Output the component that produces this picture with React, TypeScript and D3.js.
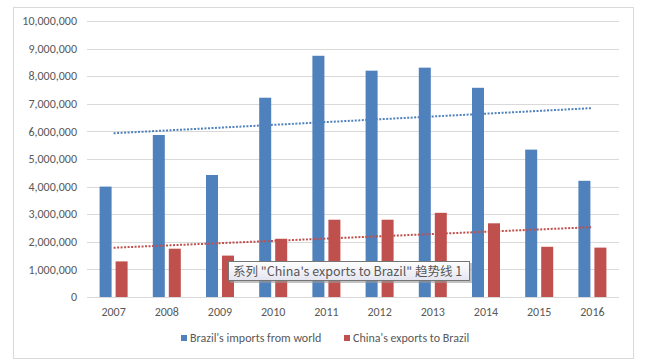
import React, { useEffect, useRef } from 'react';
import * as d3 from 'd3';

const years = ['2007', '2008', '2009', '2010', '2011', '2012', '2013', '2014', '2015', '2016'];
const brazilImports = [4000000, 5870000, 4420000, 7220000, 8740000, 8200000, 8310000, 7580000, 5340000, 4210000];
const chinaExports = [1290000, 1750000, 1500000, 2110000, 2800000, 2800000, 3050000, 2670000, 1820000, 1790000];
const yTicks = [0, 1000000, 2000000, 3000000, 4000000, 5000000, 6000000, 7000000, 8000000, 9000000, 10000000];
const seriesNames = ["Brazil's imports from world", "China's exports to Brazil"];
const tooltipText = '系列 "China\'s exports to Brazil" 趋势线 1';

// linear trendline, like Excel
function trend(values: number[]) {
  const xs = values.map((_, i) => i + 1);
  const mx = d3.mean(xs)!;
  const my = d3.mean(values)!;
  const sxy = d3.sum(xs, (x, i) => (x - mx) * (values[i] - my));
  const sxx = d3.sum(xs, (x) => (x - mx) ** 2);
  const b = sxy / sxx;
  const a = my - b * mx;
  return xs.map((x) => a + b * x);
}

export default function App() {
  const ref = useRef<SVGSVGElement>(null);

  useEffect(() => {
    const svg = d3.select(ref.current);
    svg.selectAll('*').remove();
    const W = 648;
    const H = 363;
    const left = 87;
    const right = 619;
    const top = 21;
    const bottom = 297;
    const font = 'Calibri, Carlito, "Liberation Sans", Arial, sans-serif';

    svg.append('rect').attr('width', W).attr('height', H).attr('fill', '#fff');
    svg
      .append('rect')
      .attr('x', 13.5)
      .attr('y', 7.5)
      .attr('width', 620)
      .attr('height', 351)
      .attr('fill', 'none')
      .attr('stroke', '#d9d9d9');

    const x = d3.scaleBand().domain(years).range([left, right]);
    const y = d3.scaleLinear().domain([0, 10000000]).range([bottom, top]);

    // grid
    svg
      .append('g')
      .selectAll('line')
      .data(yTicks)
      .join('line')
      .attr('x1', left)
      .attr('x2', right)
      .attr('y1', (d) => Math.round(y(d)) + 0.5)
      .attr('y2', (d) => Math.round(y(d)) + 0.5)
      .attr('stroke', '#d9d9d9');

    svg
      .append('g')
      .selectAll('text')
      .data(yTicks)
      .join('text')
      .attr('x', 77)
      .attr('y', (d) => y(d))
      .attr('dy', '0.35em')
      .attr('text-anchor', 'end')
      .attr('font-family', font)
      .attr('font-size', 12)
      .attr('fill', '#595959')
      .text((d) => d3.format(',')(d));

    const bw = 12;
    const gap = 4;
    const series = [
      { vals: brazilImports, color: '#4f81bd', off: -gap / 2 - bw },
      { vals: chinaExports, color: '#c0504d', off: gap / 2 },
    ];

    series.forEach((s) => {
      svg
        .append('g')
        .selectAll('rect')
        .data(s.vals)
        .join('rect')
        .attr('x', (_, i) => x(years[i])! + x.bandwidth() / 2 + s.off)
        .attr('width', bw)
        .attr('y', (d) => y(d))
        .attr('height', (d) => y(0) - y(d))
        .attr('fill', s.color);
    });

    series.forEach((s) => {
      const t = trend(s.vals);
      const line = d3
        .line<number>()
        .x((_, i) => x(years[i])! + x.bandwidth() / 2)
        .y((d) => y(d));
      svg
        .append('path')
        .datum(t)
        .attr('d', line)
        .attr('fill', 'none')
        .attr('stroke', s.color)
        .attr('stroke-width', 2)
        .attr('stroke-dasharray', '2,1.5');
    });

    // x labels
    svg
      .append('g')
      .selectAll('text')
      .data(years)
      .join('text')
      .attr('x', (d) => x(d)! + x.bandwidth() / 2)
      .attr('y', 312)
      .attr('dy', '0.35em')
      .attr('text-anchor', 'middle')
      .attr('font-family', font)
      .attr('font-size', 12)
      .attr('fill', '#595959')
      .text((d) => d);

    // legend
    const legX = [181, 344];
    seriesNames.forEach((n, i) => {
      svg
        .append('rect')
        .attr('x', legX[i])
        .attr('y', 335)
        .attr('width', 6)
        .attr('height', 6)
        .attr('fill', series[i].color);
      svg
        .append('text')
        .attr('x', legX[i] + 9)
        .attr('y', 338)
        .attr('dy', '0.35em')
        .attr('font-family', font)
        .attr('font-size', 12)
        .attr('fill', '#595959')
        .text(n);
    });

    // tooltip
    const defs = svg.append('defs');
    const grad = defs
      .append('linearGradient')
      .attr('id', 'tipg')
      .attr('x1', 0)
      .attr('y1', 0)
      .attr('x2', 0)
      .attr('y2', 1);
    grad.append('stop').attr('offset', '0%').attr('stop-color', '#ffffff');
    grad.append('stop').attr('offset', '100%').attr('stop-color', '#e4e5f0');
    const tip = svg.append('g');
    tip
      .append('rect')
      .attr('x', 230)
      .attr('y', 263)
      .attr('width', 242)
      .attr('height', 20)
      .attr('fill', '#9a9a9a')
      .attr('opacity', 0.6);
    tip
      .append('rect')
      .attr('x', 228.5)
      .attr('y', 261.5)
      .attr('width', 241)
      .attr('height', 19)
      .attr('fill', 'url(#tipg)')
      .attr('stroke', '#767676');
    tip
      .append('text')
      .attr('x', 233)
      .attr('y', 271.5)
      .attr('dy', '0.35em')
      .attr('font-family', '"Noto Sans CJK SC", "Liberation Sans", sans-serif')
      .attr('font-size', 12.5)
      .attr('fill', '#575757')
      .text(tooltipText);
  }, []);

  return (
    <div style={{ position: 'fixed', left: 0, top: 0 }}>
      <svg ref={ref} width={648} height={363} style={{ display: 'block' }} />
    </div>
  );
}
